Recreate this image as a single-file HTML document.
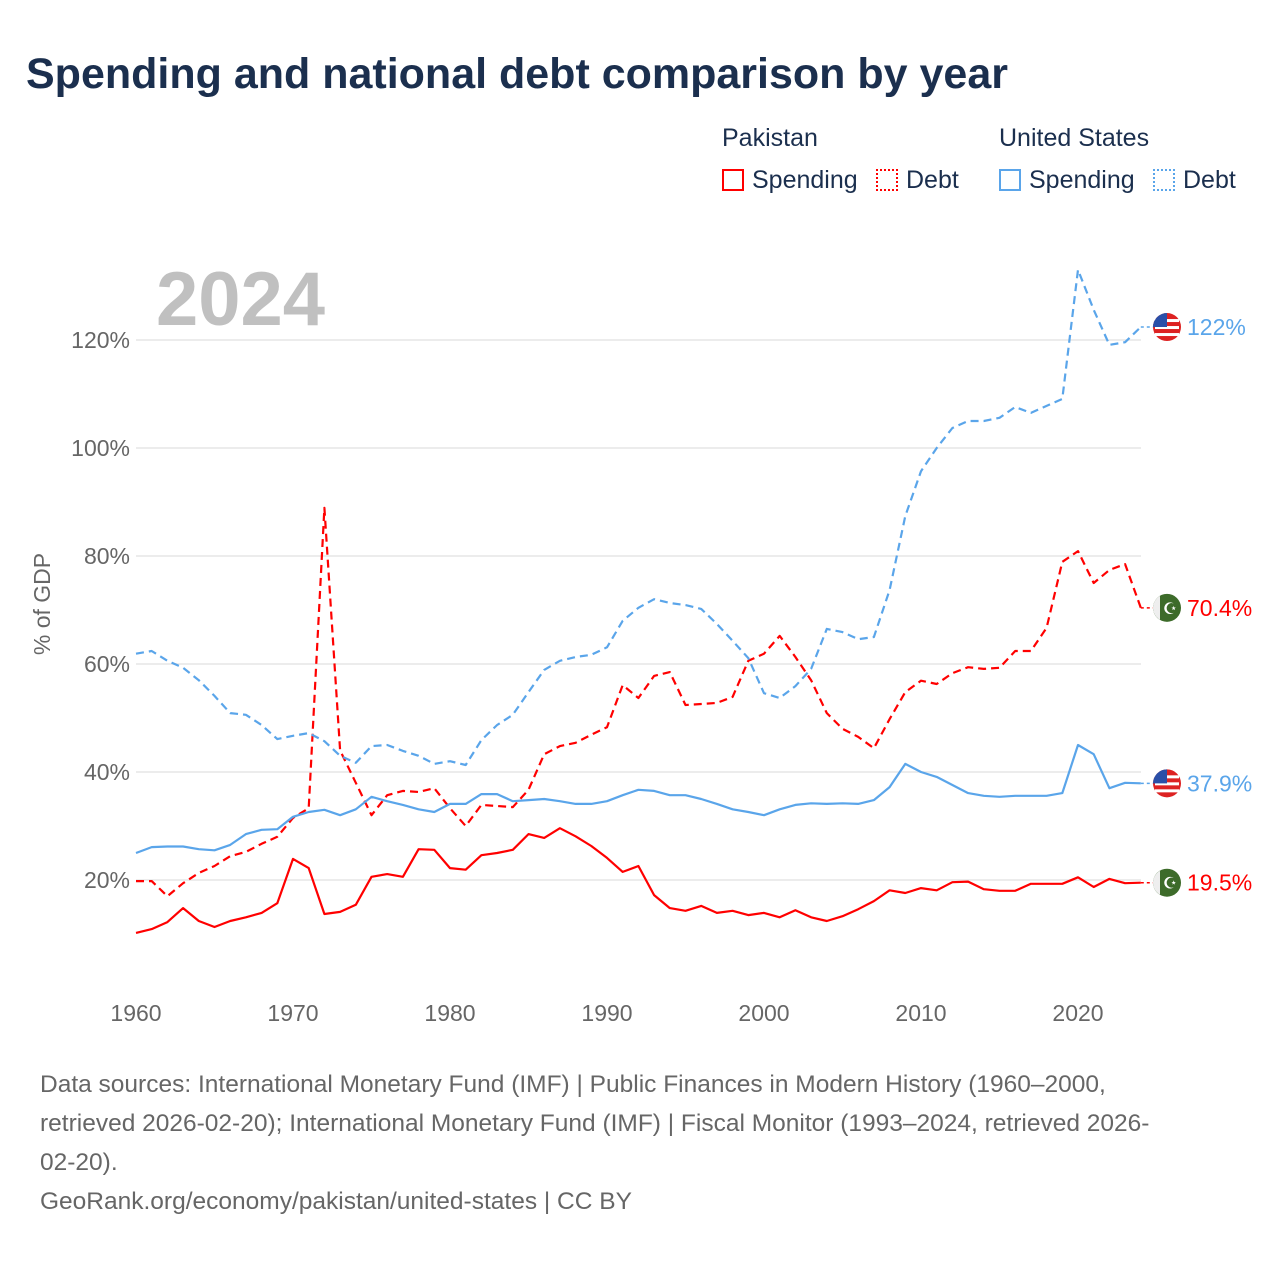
<!DOCTYPE html>
<html><head><meta charset="utf-8"><style>
body{margin:0;width:1280px;height:1280px;background:#fff;font-family:"Liberation Sans",sans-serif;position:relative;overflow:hidden}
.t{position:absolute;white-space:nowrap}
</style></head><body>
<div class="t" style="left:26px;top:50px;font-size:43px;font-weight:bold;color:#1b2f4e">Spending and national debt comparison by year</div>
<div class="t" style="left:722px;top:124px;font-size:25px;color:#1b2f4e">Pakistan</div>
<div class="t" style="left:999px;top:124px;font-size:25px;color:#1b2f4e">United States</div>
<div class="t" style="left:722px;top:166px;font-size:25px;color:#1b2f4e"><span style="display:inline-block;width:22px;height:22px;border:2px solid #f00;box-sizing:border-box;vertical-align:-3px;margin-right:8px"></span>Spending</div>
<div class="t" style="left:876px;top:166px;font-size:25px;color:#1b2f4e"><span style="display:inline-block;width:22px;height:22px;border:2px dotted #f00;box-sizing:border-box;vertical-align:-3px;margin-right:8px"></span>Debt</div>
<div class="t" style="left:999px;top:166px;font-size:25px;color:#1b2f4e"><span style="display:inline-block;width:22px;height:22px;border:2px solid #5aa5ea;box-sizing:border-box;vertical-align:-3px;margin-right:8px"></span>Spending</div>
<div class="t" style="left:1153px;top:166px;font-size:25px;color:#1b2f4e"><span style="display:inline-block;width:22px;height:22px;border:2px dotted #5aa5ea;box-sizing:border-box;vertical-align:-3px;margin-right:8px"></span>Debt</div>
<svg id="chart" width="1280" height="1280" style="position:absolute;left:0;top:0" font-family="Liberation Sans, sans-serif"></svg>
<div class="t" style="left:40px;top:1065px;font-size:24.5px;line-height:39px;color:#666">Data sources: International Monetary Fund (IMF) | Public Finances in Modern History (1960–2000,<br>retrieved 2026-02-20); International Monetary Fund (IMF) | Fiscal Monitor (1993–2024, retrieved 2026-<br>02-20).<br>GeoRank.org/economy/pakistan/united-states | CC BY</div>
<script>
const years=[];for(let y=1960;y<=2024;y++)years.push(y);
const yTicks=[20,40,60,80,100,120];
const xTicks=[1960,1970,1980,1990,2000,2010,2020];
const pkSpending=[10.2,10.9,12.2,14.8,12.4,11.3,12.4,13.1,13.9,15.7,23.9,22.2,13.7,14.1,15.4,20.6,21.1,20.6,25.7,25.6,22.2,21.9,24.6,25,25.6,28.5,27.8,29.6,28.1,26.3,24.1,21.5,22.6,17.2,14.8,14.3,15.2,13.9,14.3,13.5,13.9,13.1,14.4,13.1,12.4,13.3,14.6,16.1,18.1,17.6,18.5,18.1,19.6,19.7,18.3,18,18,19.3,19.3,19.3,20.5,18.7,20.2,19.4,19.5];
const pkDebt=[19.8,19.8,17,19.4,21.3,22.6,24.4,25.2,26.7,28,31.5,33.3,88.9,44,38,32,35.7,36.5,36.3,37,33.3,30,33.9,33.7,33.5,36.7,43.3,44.8,45.4,46.9,48.3,56.1,53.7,57.8,58.5,52.4,52.6,52.8,53.9,60.6,61.9,65.2,61.3,57,50.9,48,46.5,44.4,49.8,54.8,56.9,56.3,58.3,59.4,59.1,59.3,62.4,62.4,66.7,78.9,80.9,75,77.4,78.5,70.4];
const usSpending=[25,26.1,26.2,26.2,25.7,25.5,26.5,28.5,29.3,29.4,31.7,32.6,33,32,33.1,35.4,34.6,33.9,33.1,32.6,34.1,34.1,35.9,35.9,34.6,34.8,35,34.6,34.1,34.1,34.6,35.7,36.7,36.5,35.7,35.7,35,34.1,33.1,32.6,32,33.1,33.9,34.2,34.1,34.2,34.1,34.8,37.2,41.5,40,39.1,37.6,36.1,35.6,35.4,35.6,35.6,35.6,36.1,45,43.3,37,38,37.9];
const usDebt=[61.9,62.4,60.6,59.3,57,54.1,50.9,50.6,48.7,46.1,46.7,47.2,45.7,43,41.7,44.8,45,43.9,43,41.5,42,41.3,45.9,48.7,50.6,54.8,58.9,60.6,61.3,61.7,63.1,68,70.4,72,71.3,70.9,70.2,67.4,64.3,61.1,54.6,53.7,55.9,59.1,66.5,65.9,64.6,65,73.7,87.4,95.7,100,103.7,105,105,105.6,107.6,106.5,107.8,109.1,133,125.6,119.1,119.6,122.4];
const endLabels=["19.5%","70.4%","37.9%","122%"];

const svg=document.getElementById('chart');const NS='http://www.w3.org/2000/svg';
const X=y=>136+(y-1960)*15.7;const Y=v=>988-v*5.4;
function mk(tag,attrs,parent){const e=document.createElementNS(NS,tag);for(const k in attrs)e.setAttribute(k,attrs[k]);(parent||svg).appendChild(e);return e;}
yTicks.forEach(v=>{
 const g=mk('line',{x1:136,x2:1141,y1:Y(v),y2:Y(v),stroke:'#e6e6e6','stroke-width':1.5});
 
 
 const t=mk('text',{x:130,y:Y(v)+8,'text-anchor':'end','font-size':23,fill:'#666'});t.textContent=v+'%';
 
 
});
xTicks.forEach(v=>{
 const t=mk('text',{x:X(v),y:1021,'text-anchor':'middle','font-size':23,fill:'#666'});t.textContent=v;
 
 
});
const yt=mk('text',{x:0,y:0,transform:'translate(50,604) rotate(-90)','text-anchor':'middle','font-size':23,fill:'#666'});yt.textContent='% of GDP';


const yr=mk('text',{x:156,y:325,'font-size':76,'font-weight':'bold',fill:'#c0c0c0'});yr.textContent='2024';


const series=[[pkSpending,'#ff0000',null,'pk-spending-line'],[pkDebt,'#ff0000','8 5','pk-debt-line'],[usSpending,'#5aa5ea',null,'us-spending-line'],[usDebt,'#5aa5ea','8 5','us-debt-line']];
series.forEach((s,i)=>{
 const d=s[0].map((v,j)=>(j?'L':'M')+X(years[j]).toFixed(1)+','+Y(v).toFixed(1)).join('');
 const a={d:d,fill:'none',stroke:s[1],'stroke-width':2.2,'stroke-linejoin':'round'};if(s[2])a['stroke-dasharray']=s[2];
 const p=mk('path',a);
 
 
 const last=s[0][s[0].length-1];const ly=Y(last);
 const c=mk('line',{x1:X(2024),x2:1155,y1:ly,y2:ly,stroke:s[1],'stroke-width':1.5,'stroke-dasharray':'3 3'});
 
 
 const isUS=i>=2;
 const fl=mk('circle',{cx:1167,cy:ly,r:14,fill:isUS?'#d22':'#3d6b2a'});
 
 
 if(isUS){for(let k=0;k<3;k++){const st=mk('rect',{x:1155,y:ly-8+k*7,width:24,height:3,fill:'#fff'});}
  const cn=mk('path',{d:`M1153,${ly} A14,14 0 0 1 1167,${ly-14} L1167,${ly} Z`,fill:'#2a4fa8'});}
 else{const wb=mk('path',{d:`M1153,${ly} A14,14 0 0 1 1160,${ly-12} L1160,${ly+12} A14,14 0 0 1 1153,${ly} Z`,fill:'#eee'});
  const cr=mk('text',{x:1170,y:ly+6,'text-anchor':'middle','font-size':16,fill:'#fff'});cr.textContent='☪';}
 const t=mk('text',{x:1187,y:ly+8,'font-size':23,fill:s[1]});t.textContent=endLabels[i];
 
 
});
</script>
</body></html>
